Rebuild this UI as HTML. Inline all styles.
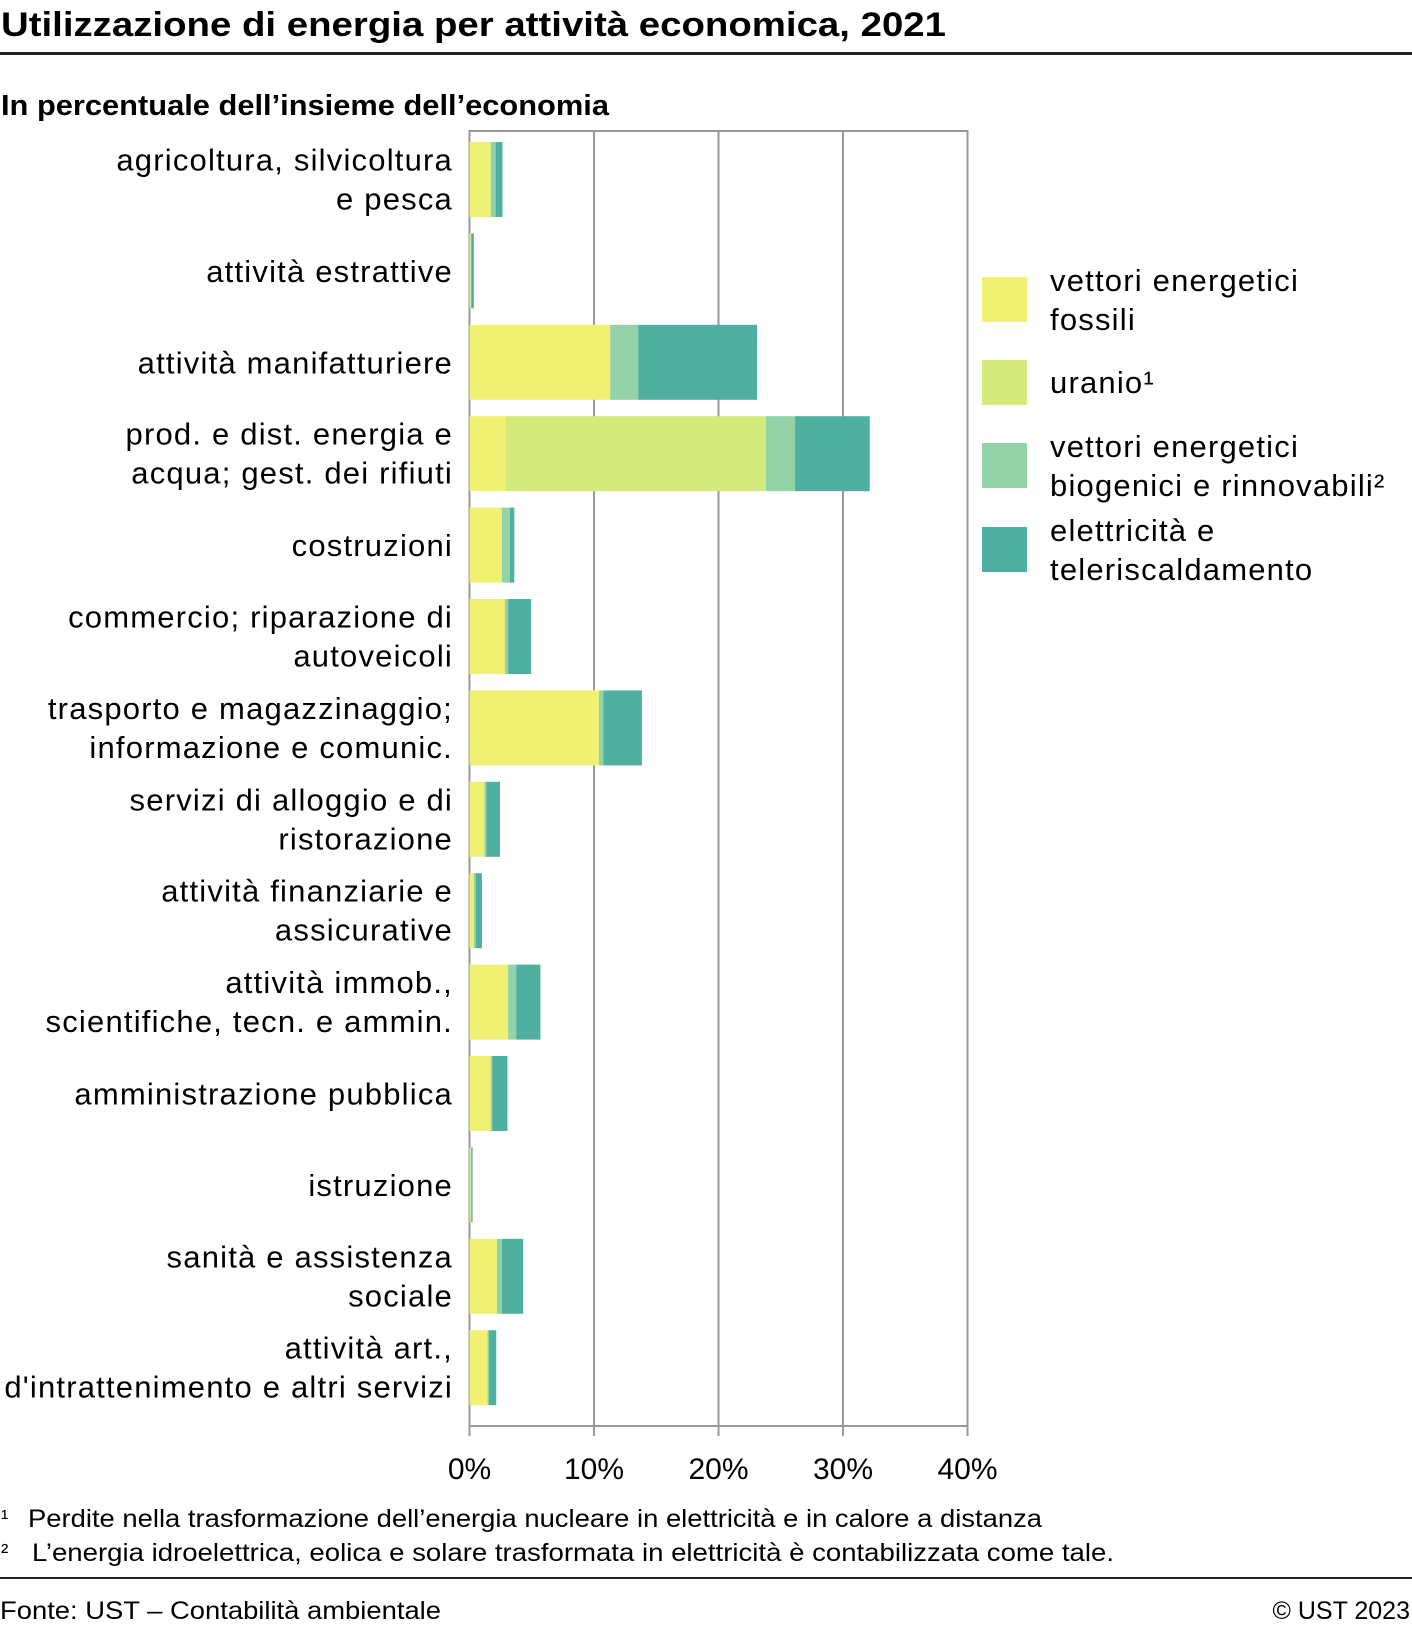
<!DOCTYPE html>
<html><head><meta charset="utf-8"><style>
html,body{margin:0;padding:0;background:#fff;}
svg{display:block;font-family:"Liberation Sans",sans-serif;}
</style></head><body>
<svg id="chart" width="1412" height="1630" viewBox="0 0 1412 1630" xmlns="http://www.w3.org/2000/svg">
<text x="1" y="36" font-size="34" font-weight="bold" textLength="945" lengthAdjust="spacingAndGlyphs">Utilizzazione di energia per attività economica, 2021</text>
<rect x="0" y="52" width="1412" height="3" fill="#222"/>
<text x="1" y="115" font-size="29" font-weight="bold" textLength="608" lengthAdjust="spacingAndGlyphs">In percentuale dell’insieme dell’economia</text>
<g id="grid"></g>
<g id="bars"></g>
<g id="labels"></g>
<g id="ticks"></g>
<g id="legend"></g>
<text x="1" y="1525" font-size="22">¹</text>
<text x="28" y="1527" font-size="25" textLength="1014" lengthAdjust="spacingAndGlyphs">Perdite nella trasformazione dell’energia nucleare in elettricità e in calore a distanza</text>
<text x="1" y="1559" font-size="22">²</text>
<text x="32" y="1561" font-size="25" textLength="1082" lengthAdjust="spacingAndGlyphs">L’energia idroelettrica, eolica e solare trasformata in elettricità è contabilizzata come tale.</text>
<rect x="0" y="1577" width="1412" height="2" fill="#222"/>
<text x="0" y="1619" font-size="25" textLength="441" lengthAdjust="spacingAndGlyphs">Fonte: UST – Contabilità ambientale</text>
<text x="1410" y="1619" font-size="25" text-anchor="end">© UST 2023</text>
</svg>
<script>
const categories = [
 ["agricoltura, silvicoltura","e pesca"],
 ["attività estrattive"],
 ["attività manifatturiere"],
 ["prod. e dist. energia e","acqua; gest. dei rifiuti"],
 ["costruzioni"],
 ["commercio; riparazione di","autoveicoli"],
 ["trasporto e magazzinaggio;","informazione e comunic."],
 ["servizi di alloggio e di","ristorazione"],
 ["attività finanziarie e","assicurative"],
 ["attività immob.,","scientifiche, tecn. e ammin."],
 ["amministrazione pubblica"],
 ["istruzione"],
 ["sanità e assistenza","sociale"],
 ["attività art.,","d'intrattenimento e altri servizi"]
];
const fossili   = [1.7, 0.1, 11.3, 2.9, 2.6, 2.85, 10.4, 1.2, 0.35, 3.1, 1.7, 0.1, 2.2, 1.45];
const uranio    = [0, 0, 0, 20.9, 0, 0, 0, 0, 0, 0, 0, 0, 0, 0];
const biogenici = [0.4, 0.05, 2.25, 2.35, 0.65, 0.25, 0.35, 0.15, 0.15, 0.65, 0.15, 0.05, 0.4, 0.1];
const elettricita = [0.55, 0.2, 9.55, 6.0, 0.35, 1.85, 3.1, 1.1, 0.5, 1.95, 1.2, 0.1, 1.7, 0.6];
const seriesNames = ["vettori energetici|fossili","uranio¹","vettori energetici|biogenici e rinnovabili²","elettricità e|teleriscaldamento"];
const tickValues = [0,10,20,30,40];
const tickLabels = ["0%","10%","20%","30%","40%"];

const NS="http://www.w3.org/2000/svg";
const colors=["#f0f073","#d4ea7c","#94d3a8","#50b0a0"];
const X0=469.5, X1=967.5, XMAX=40, Y0=131, Y1=1426;
const pitch=91.4, barH=75, firstTop=142;
function xs(v){return X0+(v/XMAX)*(X1-X0);}
function mk(tag,attrs,parent){const e=document.createElementNS(NS,tag);for(const k in attrs)e.setAttribute(k,attrs[k]);parent.appendChild(e);return e;}
const grid=document.getElementById('grid'),bars=document.getElementById('bars'),labels=document.getElementById('labels'),ticks=document.getElementById('ticks'),legend=document.getElementById('legend');
const fr=mk('rect',{x:X0,y:Y0,width:X1-X0,height:Y1-Y0,fill:'none',stroke:'#999','stroke-width':2},grid);


tickValues.forEach((v,i)=>{
 const gl=mk('line',{x1:xs(v),x2:xs(v),y1:Y0,y2:Y1+10,stroke:'#999','stroke-width':2},grid);
 
 
 const t=mk('text',{x:xs(v),y:1479,'font-size':30,'text-anchor':'middle'},ticks);
 t.textContent=tickLabels[i];
 
 
});
const series=[fossili,uranio,biogenici,elettricita];
const sKeys=['fossili','uranio','biogenici','elettricita'];
categories.forEach((lab,i)=>{
 const y=firstTop+i*pitch;
 let acc=0;
 series.forEach((s,j)=>{
  const v=s[i]; if(v<=0) return;
  const r=mk('rect',{x:xs(acc),y:y,width:xs(acc+v)-xs(acc),height:barH,fill:colors[j]},bars);
  
  
  acc+=v;
 });
 const cy=y+barH/2;
 const t=mk('text',{x:453,'font-size':31,'letter-spacing':1.2,'text-anchor':'end'},labels);
 
 
 if(lab.length===1){
  const ts=mk('tspan',{x:453,y:cy+11},t); ts.textContent=lab[0];
 } else {
  const a=mk('tspan',{x:453,y:cy-9},t); a.textContent=lab[0];
  const b=mk('tspan',{x:453,y:cy+30},t); b.textContent=lab[1];
 }
});
const legTops=[277,360,443,527];
seriesNames.forEach((n,i)=>{
 const sw=mk('rect',{x:982,y:legTops[i],width:45,height:45,fill:colors[i]},legend);
 
 
 const parts=n.split('|');
 const t=mk('text',{x:1050,'font-size':31,'letter-spacing':1.2},legend);
 
 
 const mid=legTops[i]+22;
 if(parts.length===1){const a=mk('tspan',{x:1050,y:mid+11},t);a.textContent=parts[0];}
 else{const a=mk('tspan',{x:1050,y:mid-8},t);a.textContent=parts[0];const b=mk('tspan',{x:1050,y:mid+31},t);b.textContent=parts[1];}
});
</script>
</body></html>
